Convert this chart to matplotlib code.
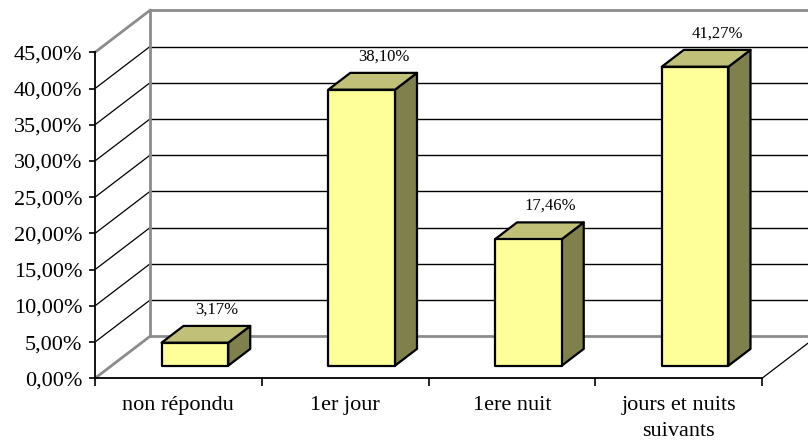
import matplotlib
matplotlib.use('Agg')
import matplotlib.pyplot as plt
from matplotlib.patches import Polygon

plt.rcParams['font.family'] = ['Liberation Serif', 'DejaVu Serif']

categories = ['non répondu', '1er jour', '1ere nuit', 'jours et nuits\nsuivants']
values = [3.17, 38.10, 17.46, 41.27]
y_ticks = [0, 5, 10, 15, 20, 25, 30, 35, 40, 45]

# 3D look: depth offset in data units (category units / percent units)
DX = 0.33
DY = 5.8
bar_w = 0.4
z0, z1 = 0.3, 0.7

front_col = '#FFFF99'
top_col = '#C0C078'
side_col = '#80804C'
wall_gray = '#8C8C8C'


def proj(x, y, z):
    return (x + z * DX, y + z * DY)


def fmt(v):
    return '{:.2f}%'.format(v).replace('.', ',')


fig = plt.figure(figsize=(8.08, 4.43), dpi=100)
ax = fig.add_axes([95 / 808, (443 - 378.3) / 443, 667 / 808, 326 / 443])
ax.set_xlim(0, len(categories))
ax.set_ylim(0, 45)

# back wall gridlines
for v in y_ticks[1:-1]:
    p1, p2 = proj(0, v, 1), proj(len(categories), v, 1)
    ax.plot([p1[0], p2[0]], [p1[1], p2[1]], color='black', lw=1, clip_on=False, zorder=1)
    # left wall diagonals
    q1, q2 = proj(0, v, 0), proj(0, v, 1)
    ax.plot([q1[0], q2[0]], [q1[1], q2[1]], color='black', lw=0.9, clip_on=False, zorder=1)

# walls outline (gray)
for a, b in [((0, 0, 1), (0, 45, 1)),
             ((0, 45, 1), (len(categories), 45, 1)),
             ((0, 0, 1), (len(categories), 0, 1)),
             ((0, 0, 0), (0, 0, 1)),
             ((0, 45, 0), (0, 45, 1))]:
    p1, p2 = proj(*a), proj(*b)
    ax.plot([p1[0], p2[0]], [p1[1], p2[1]], color=wall_gray, lw=2, clip_on=False, zorder=1.5)

# floor right edge
p1, p2 = proj(len(categories), 0, 0), proj(len(categories), 0, 1)
ax.plot([p1[0], p2[0]], [p1[1], p2[1]], color='black', lw=0.9, clip_on=False, zorder=1)

# bars
for i, v in enumerate(values):
    xl = i + 0.5 - bar_w / 2
    xr = i + 0.5 + bar_w / 2
    front = [proj(xl, 0, z0), proj(xr, 0, z0), proj(xr, v, z0), proj(xl, v, z0)]
    side = [proj(xr, 0, z0), proj(xr, 0, z1), proj(xr, v, z1), proj(xr, v, z0)]
    top = [proj(xl, v, z0), proj(xr, v, z0), proj(xr, v, z1), proj(xl, v, z1)]
    for pts, col in [(side, side_col), (top, top_col), (front, front_col)]:
        ax.add_patch(Polygon(pts, closed=True, facecolor=col, edgecolor='black',
                             lw=1.6, joinstyle='round', clip_on=False, zorder=3))
    lx, ly = proj(i + 0.5, v, z1)
    ax.annotate(fmt(v), (lx, ly), xytext=(0, 6), textcoords='offset points',
                ha='center', va='bottom', fontsize=12, zorder=4,
                annotation_clip=False)

# front axes
for s in ['top', 'right']:
    ax.spines[s].set_visible(False)
ax.spines['left'].set_linewidth(1.3)
ax.spines['bottom'].set_linewidth(1.3)
ax.spines['left'].set_zorder(2)
ax.spines['bottom'].set_zorder(2)

ax.set_yticks(y_ticks)
ax.set_yticklabels([fmt(v) for v in y_ticks], fontsize=16)
ax.tick_params(axis='y', direction='out', length=4, width=1.2, pad=5)

ax.set_xticks(range(len(categories) + 1))
ax.set_xticklabels([])
ax.tick_params(axis='x', which='major', direction='out', length=6, width=1.2)
ax.set_xticks([i + 0.5 for i in range(len(categories))], minor=True)
ax.set_xticklabels(categories, minor=True, fontsize=16, linespacing=1.55)
ax.tick_params(axis='x', which='minor', length=0, pad=12.5)

fig.savefig('out.png', dpi=100)
